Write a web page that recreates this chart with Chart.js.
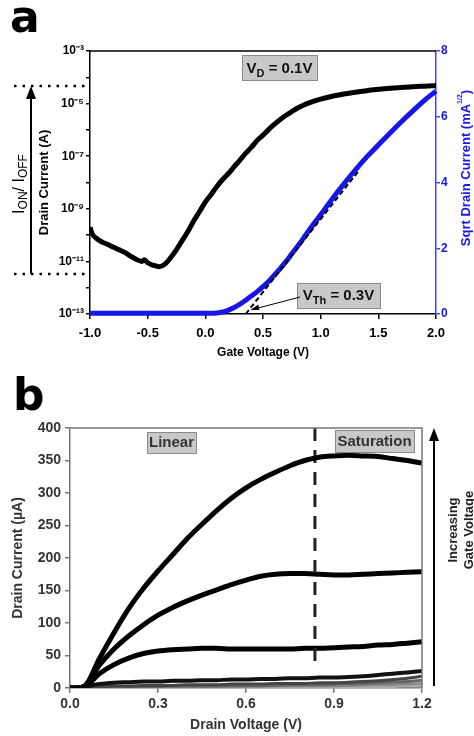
<!DOCTYPE html>
<html lang="en">
<head>
  <meta charset="UTF-8">
  <title>Transistor Characteristics</title>
  <script src="https://cdn.jsdelivr.net/npm/chart.js@4.4.1/dist/chart.umd.min.js"></script>
  <style>
    html, body { margin: 0; padding: 0; background: #fff; }
    body { width: 474px; height: 736px; position: relative; overflow: hidden; }
    #transferChart { position: absolute; left: 0; top: 0; }
    #outputChart { position: absolute; left: 0; top: 370px; }
  </style>
</head>
<body>

<canvas id="transferChart" width="474" height="370"></canvas>
<canvas id="outputChart" width="474" height="366"></canvas>

<script>
// ---- panel a: transfer curve (VD = 0.1 V) ----
const gateV = [-1.0, -0.98, -0.95, -0.9, -0.85, -0.8, -0.75, -0.7, -0.65, -0.6, -0.55, -0.53,
  -0.5, -0.45, -0.4, -0.35, -0.3, -0.25, -0.2, -0.15, -0.1, -0.05,
  0.0, 0.05, 0.1, 0.15, 0.2, 0.25, 0.3, 0.35, 0.4, 0.45, 0.5, 0.55, 0.6, 0.65, 0.7, 0.75, 0.8, 0.85, 0.9,
  1.0, 1.1, 1.2, 1.3, 1.4, 1.5, 1.6, 1.7, 1.8, 1.9, 2.0];

// drain current in A (log axis)
const drainCurrentA = [2.0e-10, 1.1e-10, 7.9e-11, 5.6e-11, 4.5e-11, 3.5e-11, 2.8e-11, 2.2e-11, 1.6e-11, 1.2e-11, 1.0e-11, 1.15e-11,
  8.9e-12, 7.1e-12, 6.3e-12, 7.9e-12, 1.4e-11, 2.8e-11, 6.3e-11, 1.4e-10, 3.5e-10, 7.9e-10,
  1.8e-9, 3.5e-9, 7.1e-9, 1.3e-8, 2.2e-8, 4.0e-8, 7.1e-8, 1.3e-7, 2.2e-7, 4.0e-7, 6.3e-7, 1.05e-6, 1.66e-6, 2.5e-6, 3.6e-6, 5.0e-6, 6.8e-6, 8.7e-6, 1.07e-5,
  1.48e-5, 1.9e-5, 2.3e-5, 2.7e-5, 3.1e-5, 3.5e-5, 3.8e-5, 4.1e-5, 4.4e-5, 4.6e-5, 4.8e-5];

// sqrt of drain current in mA^1/2 (right axis)
const sqrtCurrent = [0.02, 0.02, 0.02, 0.02, 0.02, 0.02, 0.02, 0.02, 0.02, 0.02, 0.02, 0.02,
  0.02, 0.02, 0.02, 0.02, 0.02, 0.02, 0.02, 0.02, 0.02, 0.02,
  0.02, 0.02, 0.03, 0.06, 0.12, 0.2, 0.3, 0.42, 0.55, 0.68, 0.83, 1.0, 1.19, 1.39, 1.6, 1.83, 2.06, 2.3, 2.55,
  3.02, 3.5, 3.95, 4.38, 4.78, 5.14, 5.5, 5.85, 6.18, 6.5, 6.78];

// linear extrapolation used for the threshold voltage
const fitV = [0.35, 1.34];
const fitSqrt = [0, 4.4];

const gateTicks = [-1.0, -0.5, 0.0, 0.5, 1.0, 1.5, 2.0];
const decadeTicks = [1e-13, 1e-12, 1e-11, 1e-10, 1e-9, 1e-8, 1e-7, 1e-6, 1e-5, 1e-4, 1e-3];
const decadeLabels = ['10⁻¹³', '', '10⁻¹¹', '', '10⁻⁹', '', '10⁻⁷', '', '10⁻⁵', '', '10⁻³'];
const sqrtTicks = [0, 2, 4, 6, 8];

// on/off levels marked at the left
const onLevel = 4.7e-5;
const offLevel = 3.3e-12;

// ---- panel b: output curves ----
const drainV = [0, 0.02, 0.05, 0.1, 0.15, 0.2, 0.25, 0.3, 0.35, 0.4, 0.45, 0.5, 0.55,
  0.6, 0.65, 0.7, 0.75, 0.8, 0.85, 0.9, 0.95, 1.0, 1.05, 1.1, 1.15, 1.2];

const outputCurves = [
  [0, 0, 3, 45, 85, 122, 153, 180, 205, 230, 252, 273, 292, 308, 321, 332, 342, 350, 355, 357, 358, 357, 356, 353, 350, 346],
  [0, 0, 3, 35, 60, 80, 97, 112, 124, 134, 143, 151, 159, 166, 172, 175, 176, 176, 175, 174, 174, 175, 176, 177, 178, 179],
  [0, 0, 2, 22, 36, 46, 53, 57, 59, 60, 61, 61, 60, 60, 60, 60, 60, 61, 61, 62, 63, 64, 66, 67, 69, 71],
  [0, 0, 2, 6, 8, 9, 10, 10, 11, 11, 12, 12, 13, 13, 14, 14, 15, 15, 16, 16, 17, 18, 20, 22, 24, 26],
  [0, 0, 1, 2, 3, 3, 4, 4, 4, 5, 5, 5, 6, 6, 6, 7, 7, 7, 8, 8, 9, 10, 11, 13, 15, 18],
  [0, 0, 0, 1, 1, 2, 2, 2, 3, 3, 3, 3, 4, 4, 4, 4, 5, 5, 5, 6, 6, 7, 8, 9, 10, 12],
  [0, 0, 0, 0, 1, 1, 1, 1, 1, 2, 2, 2, 2, 2, 2, 3, 3, 3, 3, 3, 4, 4, 5, 5, 6, 7],
  [0, 0, 0, 0, 0, 0, 0, 1, 1, 1, 1, 1, 1, 1, 1, 1, 1, 1, 1, 2, 2, 2, 2, 2, 3, 3]
];
const curveColors = ['#000', '#000', '#000', '#111', '#444', '#666', '#888', '#aaa'];
const curveWidths = [5, 5, 5, 4, 3, 3, 2.5, 2.5];

// linear / saturation boundary
const satV = 0.835;
const satLine = [400, 38];

const drainTicks = [0, 0.3, 0.6, 0.9, 1.2];

const FONT = "'Liberation Sans', Arial, sans-serif";
const BLUE = '#1616e8';

function pts(xs, ys) {
  return xs.map((x, i) => ({ x: x, y: ys[i] }));
}

// draws a run of text pieces, some as sub/superscripts
function drawRich(ctx, parts, x, y, align) {
  let w = 0;
  parts.forEach(p => { ctx.font = p.font; w += ctx.measureText(p.t).width; });
  let cx = align === 'center' ? x - w / 2 : x;
  parts.forEach(p => {
    ctx.font = p.font;
    ctx.fillText(p.t, cx, y + (p.dy || 0));
    cx += ctx.measureText(p.t).width;
  });
}

function label(ctx, x, y, w, h) {
  ctx.fillStyle = '#c8c8c8';
  ctx.fillRect(x, y, w, h);
  ctx.strokeStyle = '#8a8a8a';
  ctx.lineWidth = 1;
  ctx.setLineDash([]);
  ctx.strokeRect(x + 0.5, y + 0.5, w, h);
}

function arrowUp(ctx, x, yTip, yEnd) {
  ctx.strokeStyle = '#000';
  ctx.fillStyle = '#000';
  ctx.lineWidth = 2;
  ctx.setLineDash([]);
  ctx.beginPath();
  ctx.moveTo(x, yEnd);
  ctx.lineTo(x, yTip + 10);
  ctx.stroke();
  ctx.beginPath();
  ctx.moveTo(x, yTip);
  ctx.lineTo(x - 5, yTip + 13);
  ctx.lineTo(x + 5, yTip + 13);
  ctx.closePath();
  ctx.fill();
}

const transferExtras = {
  id: 'transferExtras',
  afterDraw(chart) {
    const { ctx, chartArea: a, scales } = chart;
    ctx.save();

    // top frame line
    ctx.strokeStyle = '#000';
    ctx.lineWidth = 1.5;
    ctx.beginPath();
    ctx.moveTo(a.left, a.top);
    ctx.lineTo(a.right, a.top);
    ctx.stroke();

    // panel letter
    ctx.fillStyle = '#000';
    ctx.font = "bold 44px 'DejaVu Sans', sans-serif";
    ctx.textBaseline = 'alphabetic';
    ctx.fillText('a', 10, 32);

    // ION / IOFF marker
    const yOn = scales.y.getPixelForValue(onLevel);
    const yOff = scales.y.getPixelForValue(offLevel);
    ctx.strokeStyle = '#000';
    ctx.lineWidth = 2.5;
    ctx.setLineDash([2.5, 6]);
    [yOn, yOff].forEach(yy => {
      ctx.beginPath();
      ctx.moveTo(14, yy);
      ctx.lineTo(a.left - 2, yy);
      ctx.stroke();
    });
    arrowUp(ctx, 31, yOn, yOff);

    ctx.save();
    ctx.translate(20, 184);
    ctx.rotate(-Math.PI / 2);
    ctx.fillStyle = '#000';
    ctx.textBaseline = 'middle';
    drawRich(ctx, [
      { t: 'I', font: '16px ' + FONT },
      { t: 'ON', font: '12px ' + FONT, dy: 4 },
      { t: '/ I', font: '16px ' + FONT },
      { t: 'OFF', font: '12px ' + FONT, dy: 4 }
    ], 0, 0, 'center');
    ctx.restore();

    // right axis title
    ctx.save();
    ctx.translate(466, 168);
    ctx.rotate(-Math.PI / 2);
    ctx.fillStyle = BLUE;
    ctx.textBaseline = 'middle';
    drawRich(ctx, [
      { t: 'Sqrt Drain Current (mA', font: 'bold 13px ' + FONT },
      { t: '1/2', font: 'bold 7px ' + FONT, dy: -6 },
      { t: ')', font: 'bold 13px ' + FONT }
    ], 0, 0, 'center');
    ctx.restore();

    // VD box
    label(ctx, 242, 55, 75, 25);
    ctx.fillStyle = '#111';
    ctx.textBaseline = 'alphabetic';
    drawRich(ctx, [
      { t: 'V', font: 'bold 15px ' + FONT },
      { t: 'D', font: 'bold 11px ' + FONT, dy: 4 },
      { t: ' = 0.1V', font: 'bold 15px ' + FONT }
    ], 279.5, 73, 'center');

    // VTh box with pointer to the extrapolated intercept
    label(ctx, 297, 283, 83, 25);
    ctx.fillStyle = '#111';
    drawRich(ctx, [
      { t: 'V', font: 'bold 15px ' + FONT },
      { t: 'Th', font: 'bold 11px ' + FONT, dy: 4 },
      { t: ' = 0.3V', font: 'bold 15px ' + FONT }
    ], 338.5, 300, 'center');

    const tipX = scales.x.getPixelForValue(0.39);
    const tipY = scales.y1.getPixelForValue(0.12);
    ctx.strokeStyle = '#000';
    ctx.lineWidth = 1;
    ctx.beginPath();
    ctx.moveTo(300, 297);
    ctx.lineTo(tipX + 4, tipY - 1);
    ctx.stroke();
    ctx.beginPath();
    ctx.moveTo(tipX, tipY);
    ctx.lineTo(tipX + 8, tipY - 5.5);
    ctx.lineTo(tipX + 9, tipY);
    ctx.closePath();
    ctx.fillStyle = '#000';
    ctx.fill();

    ctx.restore();
  }
};

const outputExtras = {
  id: 'outputExtras',
  afterDraw(chart) {
    const { ctx, chartArea: a } = chart;
    ctx.save();

    // top and right frame lines
    ctx.strokeStyle = '#777';
    ctx.lineWidth = 1.5;
    ctx.beginPath();
    ctx.moveTo(a.left, a.top);
    ctx.lineTo(a.right, a.top);
    ctx.lineTo(a.right, a.bottom);
    ctx.stroke();

    ctx.fillStyle = '#000';
    ctx.font = "bold 44px 'DejaVu Sans', sans-serif";
    ctx.fillText('b', 13, 40);

    label(ctx, 147, 62, 49, 21);
    label(ctx, 335, 60, 79, 22);
    ctx.fillStyle = '#333';
    ctx.font = 'bold 15px ' + FONT;
    ctx.textAlign = 'center';
    ctx.textBaseline = 'middle';
    ctx.fillText('Linear', 171.5, 73);
    ctx.fillText('Saturation', 374.5, 71.5);

    arrowUp(ctx, 434, a.top, a.bottom - 2);

    ctx.save();
    ctx.translate(453, 160);
    ctx.rotate(-Math.PI / 2);
    ctx.fillStyle = '#222';
    ctx.font = 'bold 13px ' + FONT;
    ctx.textAlign = 'center';
    ctx.textBaseline = 'middle';
    ctx.fillText('Increasing', 0, 0);
    ctx.fillText('Gate Voltage', 0, 16);
    ctx.restore();

    ctx.restore();
  }
};

new Chart(document.getElementById('transferChart'), {
  type: 'line',
  data: {
    datasets: [
      {
        label: 'Drain Current',
        data: pts(gateV, drainCurrentA),
        yAxisID: 'y',
        borderColor: '#000',
        borderWidth: 5,
        pointRadius: 0,
        order: 1,
        cubicInterpolationMode: 'monotone'
      },
      {
        label: 'Sqrt Drain Current',
        data: pts(gateV, sqrtCurrent),
        yAxisID: 'y1',
        borderColor: BLUE,
        borderWidth: 5,
        pointRadius: 0,
        clip: 4,
        order: 2,
        cubicInterpolationMode: 'monotone'
      },
      {
        label: 'Linear fit',
        data: pts(fitV, fitSqrt),
        yAxisID: 'y1',
        borderColor: '#000',
        borderWidth: 2,
        borderDash: [5, 3],
        pointRadius: 0,
        order: 0
      }
    ]
  },
  options: {
    responsive: false,
    animation: false,
    layout: { padding: { top: 51, left: 0, right: 0, bottom: 0 } },
    plugins: { legend: { display: false }, tooltip: { enabled: false } },
    scales: {
      x: {
        type: 'linear',
        min: -1,
        max: 2,
        afterBuildTicks: s => { s.ticks = gateTicks.map(v => ({ value: v })); },
        afterFit: s => { s.height = 56; },
        ticks: {
          autoSkip: false,
          maxRotation: 0,
          padding: 7,
          color: '#000',
          font: { family: FONT, size: 13, weight: 'bold' },
          callback: v => v.toFixed(1)
        },
        grid: { drawOnChartArea: false, tickLength: 5, color: '#000', lineWidth: 1.5 },
        border: { color: '#000', width: 1.5 },
        title: {
          display: true,
          text: 'Gate Voltage (V)',
          color: '#000',
          font: { family: FONT, size: 12, weight: 'bold' },
          padding: { top: 0, bottom: 10 }
        }
      },
      y: {
        type: 'logarithmic',
        position: 'left',
        min: 1e-13,
        max: 1e-3,
        afterBuildTicks: s => { s.ticks = decadeTicks.map(v => ({ value: v })); },
        afterFit: s => { s.width = 90; },
        ticks: {
          autoSkip: false,
          padding: 2,
          color: '#000',
          font: { family: FONT, size: 12, weight: 'bold' },
          callback: (v, i) => decadeLabels[i]
        },
        grid: { drawOnChartArea: false, tickLength: 4, color: '#000', lineWidth: 1.5 },
        border: { color: '#000', width: 1.5 },
        title: {
          display: true,
          text: 'Drain Current (A)',
          color: '#000',
          font: { family: FONT, size: 13, weight: 'bold' },
          padding: { top: 37, bottom: 0 }
        }
      },
      y1: {
        type: 'linear',
        position: 'right',
        min: 0,
        max: 8,
        afterBuildTicks: s => { s.ticks = sqrtTicks.map(v => ({ value: v })); },
        afterFit: s => { s.width = 38; },
        ticks: {
          autoSkip: false,
          padding: 1,
          color: BLUE,
          font: { family: FONT, size: 12, weight: 'bold' }
        },
        grid: { drawOnChartArea: false, tickLength: 4, color: '#4040ff', lineWidth: 1.5 },
        border: { color: '#4040ff', width: 1.5 }
      }
    }
  },
  plugins: [transferExtras]
});

new Chart(document.getElementById('outputChart'), {
  type: 'line',
  data: {
    datasets: outputCurves.map((c, i) => ({
      label: 'Gate step ' + (i + 1),
      data: pts(drainV, c),
      borderColor: curveColors[i],
      borderWidth: curveWidths[i],
      pointRadius: 0,
      cubicInterpolationMode: 'monotone',
      order: i
    })).concat([{
      label: 'Saturation onset',
      data: [{ x: satV, y: satLine[0] }, { x: satV, y: satLine[1] }],
      borderColor: '#222',
      borderWidth: 3,
      borderDash: [13, 9],
      pointRadius: 0
    }])
  },
  options: {
    responsive: false,
    animation: false,
    layout: { padding: { top: 58, left: 0, right: 52, bottom: 0 } },
    plugins: { legend: { display: false }, tooltip: { enabled: false } },
    scales: {
      x: {
        type: 'linear',
        min: 0,
        max: 1.2,
        afterBuildTicks: s => { s.ticks = drainTicks.map(v => ({ value: v })); },
        afterFit: s => { s.height = 48; },
        ticks: {
          autoSkip: false,
          maxRotation: 0,
          padding: 3,
          color: '#333',
          font: { family: FONT, size: 14, weight: 'bold' },
          callback: v => v.toFixed(1)
        },
        grid: { drawOnChartArea: false, tickLength: 5, color: '#777', lineWidth: 1.5 },
        border: { color: '#777', width: 1.5 },
        title: {
          display: true,
          text: 'Drain Voltage (V)',
          color: '#333',
          font: { family: FONT, size: 14, weight: 'bold' },
          padding: { top: 0, bottom: 2 }
        }
      },
      y: {
        type: 'linear',
        min: 0,
        max: 400,
        afterFit: s => { s.width = 70; },
        ticks: {
          stepSize: 50,
          padding: 4,
          color: '#333',
          font: { family: FONT, size: 14, weight: 'bold' }
        },
        grid: { drawOnChartArea: false, tickLength: 5, color: '#777', lineWidth: 1.5 },
        border: { color: '#777', width: 1.5 },
        title: {
          display: true,
          text: 'Drain Current (µA)',
          color: '#333',
          font: { family: FONT, size: 14, weight: 'bold' },
          padding: { top: 10, bottom: 0 }
        }
      }
    }
  },
  plugins: [outputExtras]
});
</script>
</body>
</html>
